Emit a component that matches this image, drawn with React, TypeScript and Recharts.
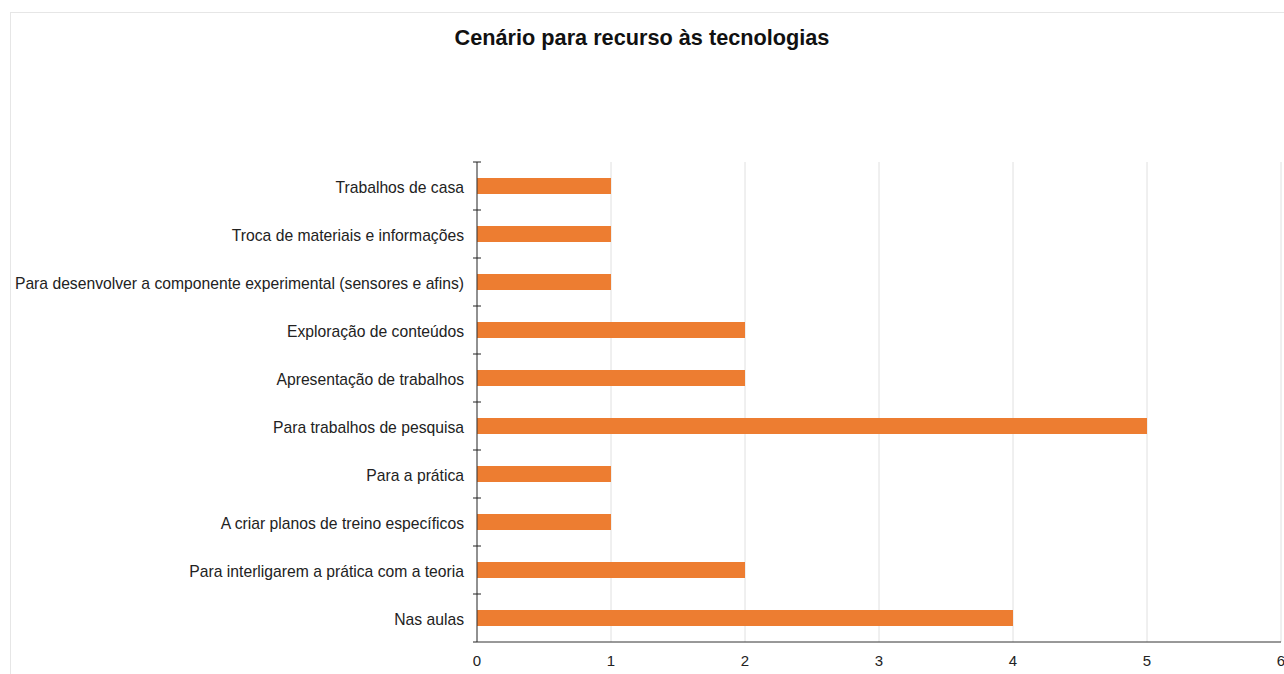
import { BarChart, Bar, XAxis, YAxis, CartesianGrid } from "recharts";

const categories = [
  "Trabalhos de casa",
  "Troca de materiais e informações",
  "Para desenvolver a componente experimental (sensores e afins)",
  "Exploração de conteúdos",
  "Apresentação de trabalhos",
  "Para trabalhos de pesquisa",
  "Para a prática",
  "A criar planos de treino específicos",
  "Para interligarem a prática com a teoria",
  "Nas aulas",
];
const counts = [1, 1, 1, 2, 2, 5, 1, 1, 2, 4];
const xTicks = [0, 1, 2, 3, 4, 5, 6];

const data = categories.map((name, i) => ({ name, value: counts[i] }));

const FONT = "'Liberation Sans', Arial, sans-serif";

function CatTick(props: any) {
  const { x, y, payload, index } = props;
  const off = payload?.offset ?? 24;
  const last = index === categories.length - 1;
  return (
    <g>
      <line x1={x - 4} x2={x + 4} y1={y - off} y2={y - off} stroke="#222" strokeWidth={1} />
      {last && <line x1={x - 4} x2={x} y1={y + off} y2={y + off} stroke="#222" strokeWidth={1} />}
      <text
        x={x - 13}
        y={y + 1}
        textAnchor="end"
        dominantBaseline="central"
        fill="#222"
        fontSize={15.7}
        fontFamily={FONT}
      >
        {payload.value}
      </text>
    </g>
  );
}

export default function App() {
  return (
    <div style={{ position: "fixed", left: 0, top: 0, width: 1284, height: 674, overflow: "hidden", background: "#fff" }}>
      <div
        style={{
          position: "absolute", left: 10, top: 12, width: 1320, height: 720,
          border: "1px solid #e6e6e6", boxSizing: "border-box",
        }}
      />
      <div
        style={{
          position: "absolute", left: 0, top: 25, width: 1284, textAlign: "center",
          fontFamily: FONT, fontWeight: 700, fontSize: 21.7, color: "#111",
        }}
      >
        Cenário para recurso às tecnologias
      </div>
      <div style={{ position: "absolute", left: 0, top: 0 }}>
        <BarChart
          width={1284}
          height={674}
          data={data}
          layout="vertical"
          margin={{ top: 162, right: 3, bottom: 0, left: 0 }}
        >
          <CartesianGrid horizontal={false} stroke="#e0e0e0" />
          <XAxis
            type="number"
            domain={[0, 6]}
            ticks={xTicks}
            interval={0}
            tickLine={false}
            axisLine={{ stroke: "#333" }}
            tick={{ fill: "#222", fontSize: 15, fontFamily: FONT }}
            tickMargin={7}
            height={32}
          />
          <YAxis
            type="category"
            dataKey="name"
            width={477}
            tickSize={0}
            tickMargin={0}
            axisLine={{ stroke: "#333" }}
            interval={0}
            tick={<CatTick />}
          />
          <Bar dataKey="value" fill="#ED7D31" barSize={16} isAnimationActive={false} />
        </BarChart>
      </div>
    </div>
  );
}
